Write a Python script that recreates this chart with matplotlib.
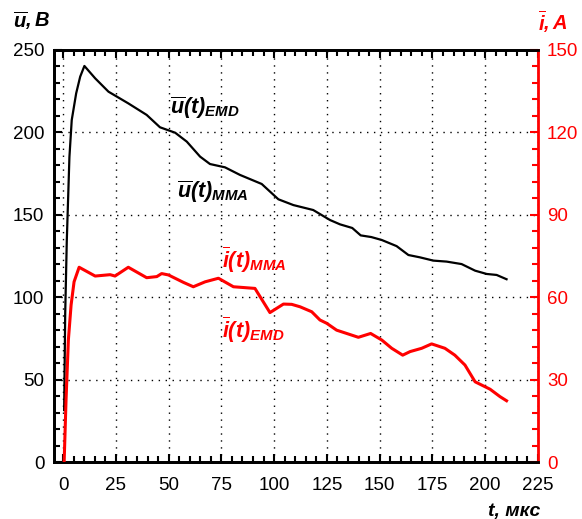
import numpy as np
import matplotlib
matplotlib.use('Agg')
import matplotlib.pyplot as plt
from matplotlib.ticker import MultipleLocator

plt.rcParams['font.family'] = ['Liberation Sans', 'DejaVu Sans']
plt.rcParams['mathtext.fontset'] = 'custom'
plt.rcParams['mathtext.rm'] = 'Liberation Sans:bold:italic'
plt.rcParams['mathtext.it'] = 'Liberation Sans:bold:italic'
plt.rcParams['mathtext.bf'] = 'Liberation Sans:bold:italic'

# voltage, V (left axis)
t_u = [0.5, 1.0, 1.75, 3.0, 4.1, 6.2, 8.1, 10.1, 15.2, 21.5, 30.9, 39.6, 45.9, 53.1,
       58.6, 64.9, 69.6, 76.7, 83.8, 94.1, 102.0, 109.1, 118.5, 126.5, 131.2, 137.0,
       141.0, 146.0, 151.0, 158.0, 163.6, 169.0, 175.4, 181.7, 188.8, 195.2, 200.7,
       205.4, 210.1]
u = [31.5, 90.0, 134.0, 185.0, 207.5, 223.7, 233.8, 240.3, 232.8, 224.7, 217.6, 210.6,
     203.1, 199.8, 194.4, 185.3, 180.8, 178.8, 174.2, 168.7, 159.4, 155.9, 152.9, 146.8,
     144.2, 142.0, 137.5, 136.5, 134.7, 131.0, 125.6, 124.2, 122.2, 121.6, 120.1, 116.1,
     114.1, 113.5, 110.9]

# current, A (right axis)
t_i = [0.5, 1.4, 2.5, 3.8, 5.2, 7.6, 15.2, 22.3, 24.6, 30.9, 39.6, 44.4, 46.7, 49.9,
       57.0, 61.7, 67.3, 73.6, 80.7, 90.9, 98.0, 104.4, 108.3, 112.3, 117.8, 121.7,
       124.9, 129.6, 139.9, 145.7, 151.0, 155.7, 160.9, 164.4, 169.9, 174.6, 180.9,
       185.6, 190.4, 195.2, 202.3, 207.0, 210.1]
i_cur = [0.0, 22.6, 44.4, 57.2, 65.6, 70.9, 67.7, 68.2, 67.7, 70.9, 67.1, 67.5, 68.6,
         68.1, 65.4, 63.8, 65.6, 66.9, 63.8, 63.2, 54.4, 57.5, 57.4, 56.5, 54.7, 51.7,
         50.5, 48.0, 45.4, 46.8, 44.4, 41.4, 38.9, 40.2, 41.4, 43.0, 41.4, 38.9, 35.3,
         29.2, 26.5, 23.8, 22.3]

fig = plt.figure(figsize=(5.82, 5.19), dpi=100)
ax = fig.add_axes([0.0928, 0.1098, 0.8316, 0.7939])
ax2 = ax.twinx()

ax.plot(t_u, u, color='black', lw=1.6, zorder=3)
ax2.plot(t_i, i_cur, color='red', lw=2.2, zorder=3)

ax.set_xlim(-4.3, 225)
ax.set_ylim(0, 250)
ax2.set_ylim(0, 150)

ax.xaxis.set_major_locator(MultipleLocator(25))
ax.xaxis.set_minor_locator(MultipleLocator(5))
ax.yaxis.set_major_locator(MultipleLocator(50))
ax.yaxis.set_minor_locator(MultipleLocator(10))
ax2.yaxis.set_major_locator(MultipleLocator(30))
ax2.yaxis.set_minor_locator(MultipleLocator(6))

ax.grid(True, which='major', color='black', linestyle=(0, (1, 4)), lw=1)

ax.tick_params(which='both', direction='in', top=True, right=False, labelsize=13.5,
               width=1.5)
ax.tick_params(which='major', length=6)
ax.tick_params(which='minor', length=4)
ax.tick_params(axis='x', which='major', pad=11)
ax.tick_params(axis='y', which='major', pad=7)
ax2.tick_params(which='both', direction='in', colors='red', labelsize=13.5, width=1.5)
ax2.tick_params(which='major', length=6, pad=6.5)
ax2.tick_params(which='minor', length=4)

for s in ['left', 'bottom', 'top']:
    ax.spines[s].set_linewidth(2)
    ax2.spines[s].set_linewidth(2)
ax2.spines['right'].set_color('red')
ax2.spines['right'].set_linewidth(2)
ax.spines['right'].set_visible(False)

ax.text(50.5, 211, r'$\overline{u}(t)_{EMD}$', fontsize=15.5, color='black')
ax.text(54, 160, r'$\overline{u}(t)_{MMA}$', fontsize=15.5, color='black')
ax.text(75.5, 117.5, r'$\overline{i}(t)_{MMA}$', fontsize=15.5, color='red')
ax.text(75.5, 75, r'$\overline{i}(t)_{EMD}$', fontsize=15.5, color='red')

fig.text(0.022, 0.948, r'$\overline{u}, B$', fontsize=14.5, va='baseline', ha='left')
fig.text(0.976, 0.942, r'$\overline{i}, A$', fontsize=14.5, va='baseline', ha='right',
         color='red')
fig.text(0.928, 0.015, 't, мкс', fontsize=14, fontweight='bold', fontstyle='italic',
         va='center', ha='right')

fig.savefig('out.png', dpi=100)
